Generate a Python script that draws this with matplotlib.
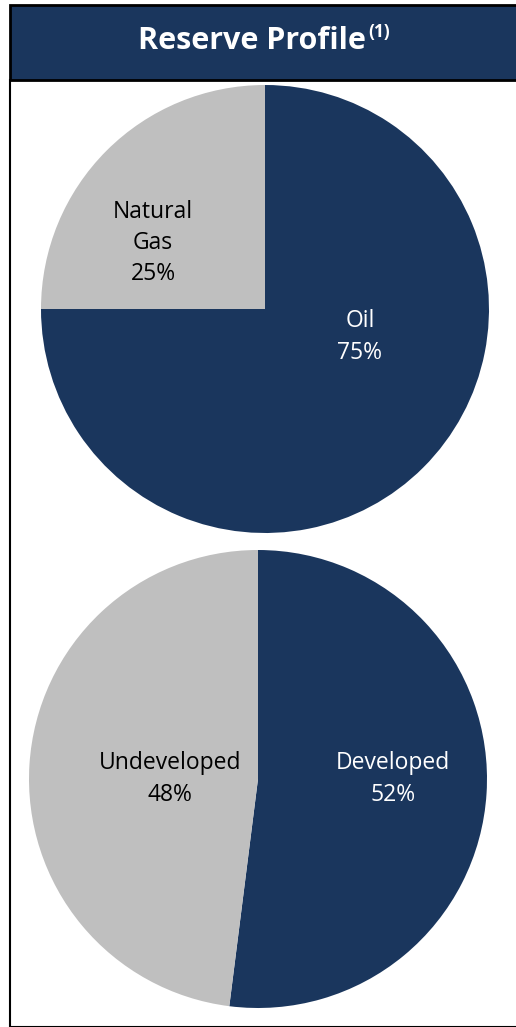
import matplotlib.pyplot as plt
from matplotlib.patches import Rectangle

# datos
tipo_labels = ['Oil', 'Natural\nGas']
tipo_vals = [75, 25]
estado_labels = ['Developed', 'Undeveloped']
estado_vals = [52, 48]

azul = '#1a365d'
gris = '#bfbfbf'
W, H = 516, 1027

plt.rcParams['font.family'] = ['Open Sans', 'DejaVu Sans']
fig = plt.figure(figsize=(W / 100, H / 100), dpi=100)
fig.patch.set_facecolor('white')

# marco y cabecera
fig.add_artist(Rectangle((10 / W, 0), 1, (H - 80) / H, transform=fig.transFigure,
                         facecolor='none', edgecolor='black', lw=1.5))
fig.add_artist(Rectangle((10 / W, (H - 80) / H), 1, 75 / H, transform=fig.transFigure,
                         facecolor=azul, edgecolor='black', lw=2))
t = fig.text(252 / W, (H - 41) / H, 'Reserve Profile', color='white', fontsize=22,
             fontweight='bold', ha='center', va='center')
r = fig.canvas.get_renderer()
bb = t.get_window_extent(r)
fig.text(bb.x1 / W + 2 / W, (H - 32) / H, '(1)', color='white', fontsize=12.5,
         fontweight='bold', ha='left', va='center')


def pastel(cx, cy, r, vals, labels, txt_colors, txt_pos):
    ax = fig.add_axes([(cx - r) / W, (H - cy - r) / H, 2 * r / W, 2 * r / H])
    ax.pie(vals, colors=[azul, gris], startangle=90, counterclock=False, radius=1)
    ax.set_xlim(-1, 1)
    ax.set_ylim(-1, 1)
    ax.axis('off')
    for v, lab, c, (x, y) in zip(vals, labels, txt_colors, txt_pos):
        ax.text(x, y, f'{lab}\n{v}%', color=c, fontsize=16.5, ha='center',
                va='center', linespacing=1.4)


pastel(265, 309, 224, tipo_vals, tipo_labels, ['white', 'black'],
       [(0.424, -0.125), (-0.5, 0.295)])
pastel(258, 779, 229, estado_vals, estado_labels, ['white', 'black'],
       [(0.59, 0.0), (-0.384, 0.0)])

fig.savefig('out.png', dpi=100)
